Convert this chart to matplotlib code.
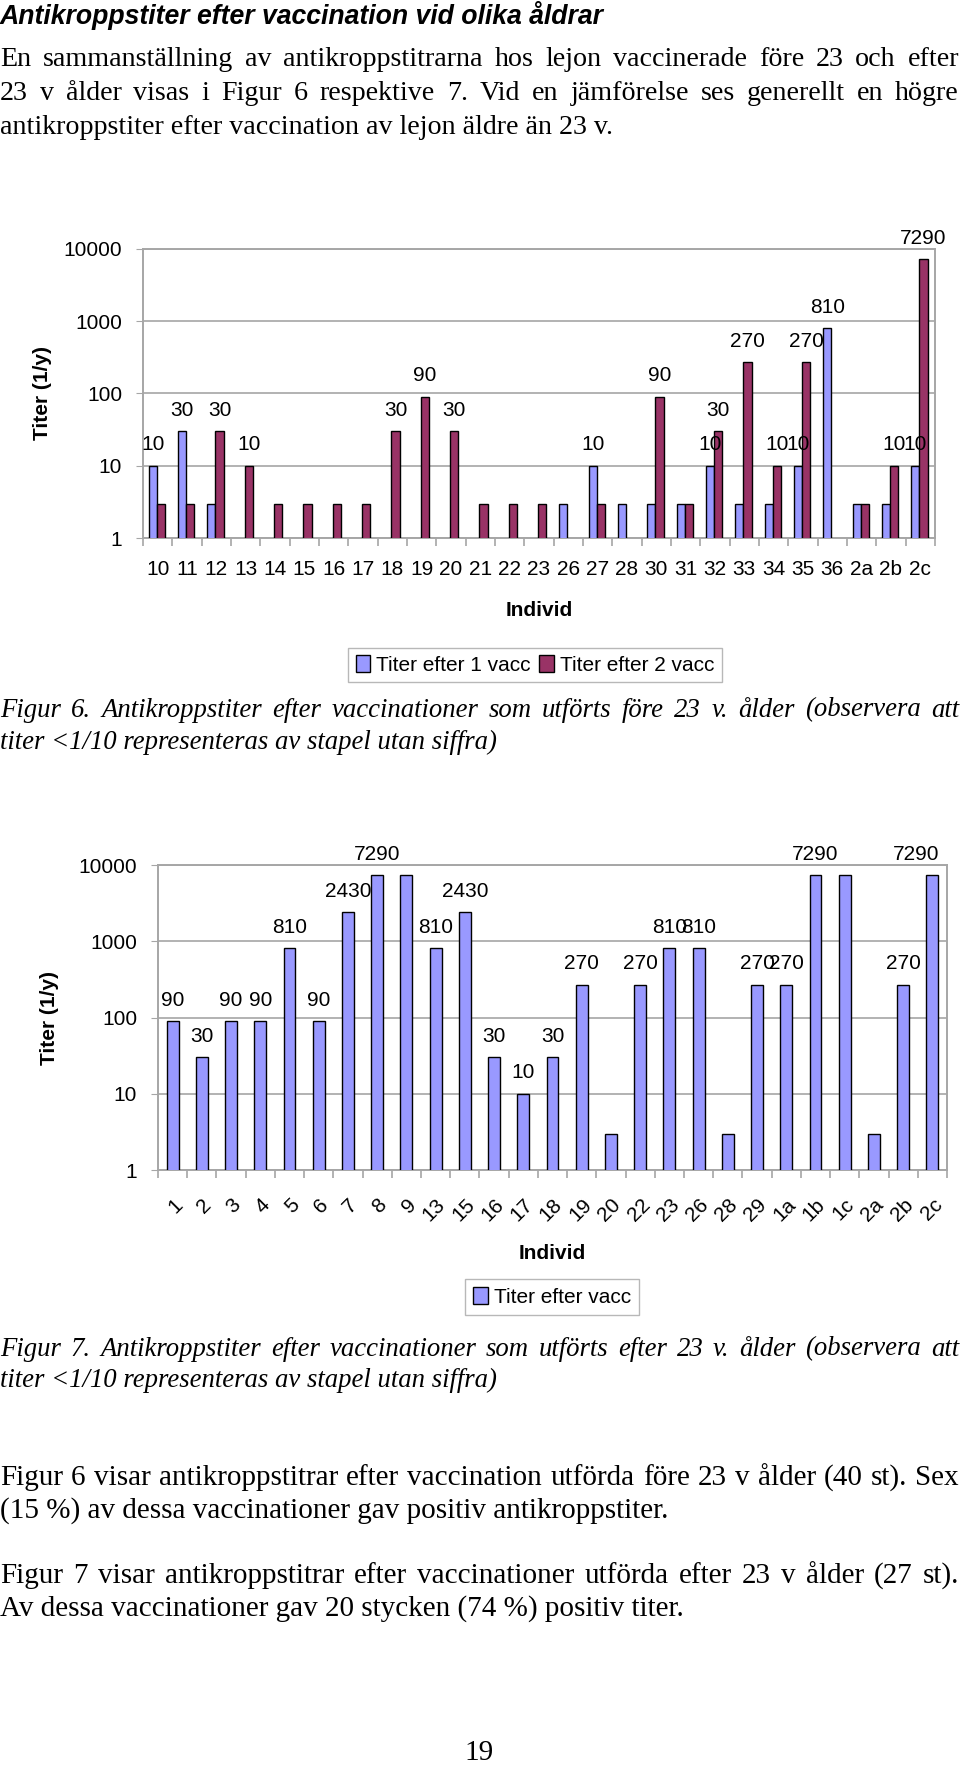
import numpy as np
import matplotlib.pyplot as plt
from matplotlib.patches import Patch

W, H = 960, 1767

# Figur 6: före 23 v ålder (3 = titer <1/10, nan = ingen stapel)
ind6 = ['10', '11', '12', '13', '14', '15', '16', '17', '18', '19', '20', '21', '22', '23',
        '26', '27', '28', '30', '31', '32', '33', '34', '35', '36', '2a', '2b', '2c']
vacc1 = [10, 30, 3, np.nan, np.nan, np.nan, np.nan, np.nan, np.nan, np.nan, np.nan, np.nan, np.nan, np.nan,
         3, 10, 3, 3, 3, 10, 3, 3, 10, 810, 3, 3, 10]
vacc2 = [3, 3, 30, 10, 3, 3, 3, 3, 30, 90, 30, 3, 3, 3,
         np.nan, 3, np.nan, 90, 3, 30, 270, 10, 270, np.nan, 3, 10, 7290]

# Figur 7: efter 23 v ålder
ind7 = ['1', '2', '3', '4', '5', '6', '7', '8', '9', '13', '15', '16', '17', '18', '19', '20',
        '22', '23', '26', '28', '29', '1a', '1b', '1c', '2a', '2b', '2c']
titer7 = [90, 30, 90, 90, 810, 90, 2430, 7290, 7290, 810, 2430, 30, 10, 30, 270, 3,
          270, 810, 810, 3, 270, 270, 7290, 7290, 3, 270, 7290]
# etiketter som visas i originalet (några saknas)
lab7 = ['90', '30', '90', '90', '810', '90', '2430', '7290', '', '810', '2430', '30', '10', '30', '270', '',
        '270', '810', '810', '', '270', '270', '7290', '', '', '270', '7290']

BLUE = '#9999FF'
RED = '#993366'
GRID = '#a6a6a6'
SANS = 'Liberation Sans'
SERIF = 'Liberation Serif'
FS = 15
BODY = 21
CAP = 19.3


def box(l, t, r, b):
    return [l / W, 1 - b / H, (r - l) / W, (b - t) / H]


def ftext(x, y, s, **kw):
    return fig.text(x / W, 1 - y / H, s, **kw)


def textline(y, s, size, style='normal', justify=False):
    if not justify:
        ftext(0, y, s, fontsize=size, family=SERIF, style=style, va='center')
        return
    r = fig.canvas.get_renderer()
    words = s.split(' ')
    objs = [ftext(0, y, w, fontsize=size, family=SERIF, style=style, va='center') for w in words]
    widths = [o.get_window_extent(r).width for o in objs]
    gap = (W - 1 - sum(widths)) / (len(words) - 1)
    xpos = 0
    for o, w in zip(objs, widths):
        o.set_x(xpos / W)
        xpos += w + gap


def style_axis(ax, n):
    ax.set_yscale('log')
    ax.set_ylim(1, 10000)
    ax.set_xlim(-0.5, n - 0.5)
    ax.set_yticks([1, 10, 100, 1000, 10000])
    ax.set_yticklabels(['1', '10', '100', '1000', '10000'], fontsize=FS, family=SANS)
    ax.yaxis.set_minor_locator(plt.NullLocator())
    ax.tick_params(axis='y', length=5, color=GRID, pad=10)
    ax.grid(axis='y', color=GRID, lw=1.2)
    ax.set_axisbelow(True)
    for s in ax.spines.values():
        s.set_color(GRID)
        s.set_linewidth(1.4)
    ax.set_xticks(np.arange(n))
    ax.set_xticks(np.arange(n + 1) - 0.5, minor=True)
    ax.tick_params(axis='x', which='major', length=0)
    ax.tick_params(axis='x', which='minor', length=6, color=GRID, width=1.2)


fig = plt.figure(figsize=(W / 100, H / 100), dpi=100)

# ---- text överst ----
ftext(0, 15, 'Antikroppstiter efter vaccination vid olika åldrar', fontsize=19.2,
      family=SANS, weight='bold', style='italic', va='center')
textline(59, 'En sammanställning av antikroppstitrarna hos lejon vaccinerade före 23 och efter', 20.2, justify=True)
textline(93, '23 v ålder visas i Figur 6 respektive 7. Vid en jämförelse ses generellt en högre', 20.2, justify=True)
textline(127, 'antikroppstiter efter vaccination av lejon äldre än 23 v.', 20.2)

# ---- Figur 6 ----
n1 = len(ind6)
x = np.arange(n1)
bw = 0.28
ax1 = fig.add_axes(box(143, 249, 935, 538))
style_axis(ax1, n1)
ax1.bar(x - bw / 2 - 0.03, vacc1, bw, color=BLUE, edgecolor='black', lw=1, zorder=3)
ax1.bar(x + bw / 2 - 0.03, vacc2, bw, color=RED, edgecolor='black', lw=1, zorder=3)
for xs, vals in ((x - bw / 2 - 0.03, vacc1), (x + bw / 2 - 0.03, vacc2)):
    for xi, v in zip(xs, vals):
        if np.isfinite(v) and v >= 10:
            ax1.annotate(str(int(v)), (xi, v), xytext=(0, 15), textcoords='offset points',
                         ha='center', va='center', fontsize=FS, family=SANS,
                         annotation_clip=False)
ax1.set_xticklabels(ind6, fontsize=FS, family=SANS)
ax1.tick_params(axis='x', which='major', pad=16)
ax1.set_xlabel('Individ', fontsize=FS, family=SANS, weight='bold', labelpad=16)
ax1.set_ylabel('Titer (1/y)', fontsize=FS, family=SANS, weight='bold')
ax1.yaxis.set_label_coords(-0.115, 0.5)
fig.legend(handles=[Patch(facecolor=BLUE, edgecolor='black', label='Titer efter 1 vacc'),
                    Patch(facecolor=RED, edgecolor='black', label='Titer efter 2 vacc')],
           loc='center', bbox_to_anchor=(535 / W, 1 - 665 / H), ncol=2,
           prop={'family': SANS, 'size': FS}, frameon=True, fancybox=False, edgecolor=GRID,
           handlelength=0.7, handleheight=0.9, handletextpad=0.3, columnspacing=0.4,
           borderpad=0.35)

textline(710, 'Figur 6. Antikroppstiter efter vaccinationer som utförts före 23 v. ålder (observera att',
         CAP, 'italic', justify=True)
textline(742, 'titer <1/10 representeras av stapel utan siffra)', CAP, 'italic')

# ---- Figur 7 ----
n2 = len(ind7)
x2 = np.arange(n2)
ax2 = fig.add_axes(box(158, 865, 947, 1170))
style_axis(ax2, n2)
ax2.bar(x2, titer7, 0.41, color=BLUE, edgecolor='black', lw=1, zorder=3)
for xi, v, s in zip(x2, titer7, lab7):
    if s:
        dx = -12 if xi == n2 - 1 else 0
        ax2.annotate(s, (xi, v), xytext=(dx, 15), textcoords='offset points',
                     ha='center', va='center', fontsize=FS, family=SANS,
                     annotation_clip=False)
ax2.set_xticklabels(ind7, fontsize=FS, family=SANS, rotation=45, ha='right',
                    rotation_mode='anchor')
ax2.tick_params(axis='x', which='major', pad=18)
ax2.set_xlabel('Individ', fontsize=FS, family=SANS, weight='bold', labelpad=14)
ax2.set_ylabel('Titer (1/y)', fontsize=FS, family=SANS, weight='bold')
ax2.yaxis.set_label_coords(-0.125, 0.5)
fig.legend(handles=[Patch(facecolor=BLUE, edgecolor='black', label='Titer efter vacc')],
           loc='center', bbox_to_anchor=(552 / W, 1 - 1297 / H),
           prop={'family': SANS, 'size': FS}, frameon=True, fancybox=False, edgecolor=GRID,
           handlelength=0.7, handleheight=0.9, handletextpad=0.3, borderpad=0.4)

textline(1349, 'Figur 7. Antikroppstiter efter vaccinationer som utförts efter 23 v. ålder (observera att',
         CAP, 'italic', justify=True)
textline(1380, 'titer <1/10 representeras av stapel utan siffra)', CAP, 'italic')

# ---- text nederst ----
textline(1478, 'Figur 6 visar antikroppstitrar efter vaccination utförda före 23 v ålder (40 st). Sex', BODY, justify=True)
textline(1511, '(15 %) av dessa vaccinationer gav positiv antikroppstiter.', BODY)
textline(1576, 'Figur 7 visar antikroppstitrar efter vaccinationer utförda efter 23 v ålder (27 st).', BODY, justify=True)
textline(1609, 'Av dessa vaccinationer gav 20 stycken (74 %) positiv titer.', BODY)
ftext(479, 1753, '19', fontsize=BODY, family=SERIF, ha='center', va='center')

fig.savefig('out.png', dpi=100)
